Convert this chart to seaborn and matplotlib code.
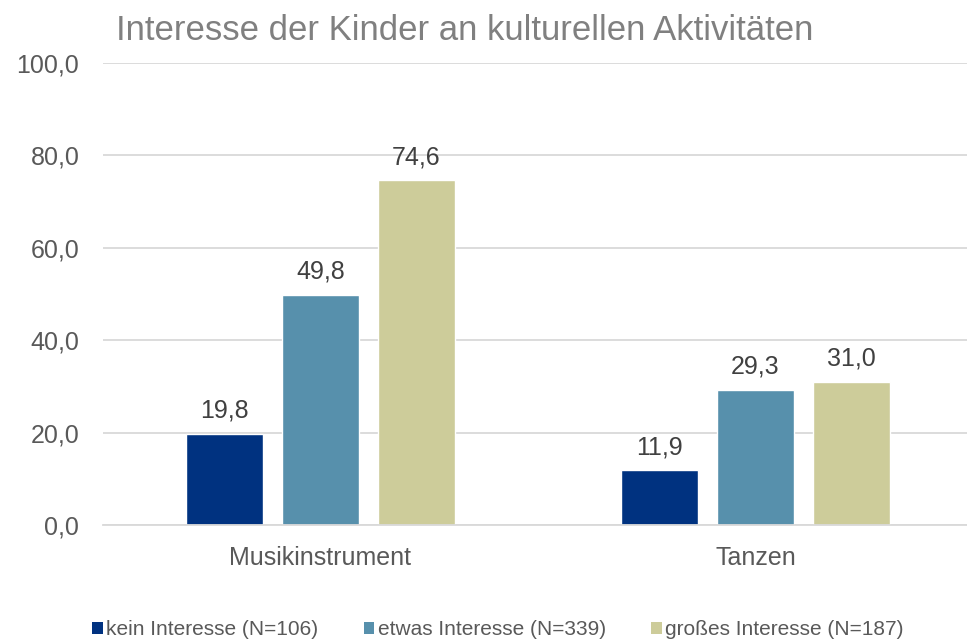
import matplotlib
matplotlib.use('Agg')
import matplotlib.pyplot as plt
import seaborn as sns
import pandas as pd
from matplotlib.patches import Patch

# data
categories = ['Musikinstrument', 'Tanzen']
groups = ['kein Interesse (N=106)', 'etwas Interesse (N=339)', 'großes Interesse (N=187)']
kein = [19.8, 11.9]
etwas = [49.8, 29.3]
gross = [74.6, 31.0]
colors = ['#003280', '#5790AC', '#CDCC9A']

rows = []
for g, vals in zip(groups, [kein, etwas, gross]):
    for c, v in zip(categories, vals):
        rows.append({'Kategorie': c, 'Gruppe': g, 'Wert': v})
df = pd.DataFrame(rows)

sns.set_style('white')
plt.rcParams['font.family'] = ['Liberation Sans', 'DejaVu Sans']

fig = plt.figure(figsize=(9.67, 6.42), dpi=100)
ax = fig.add_axes([0.1065, 0.182, 0.8997, 0.72])

sns.barplot(data=df, x='Kategorie', y='Wert', hue='Gruppe', order=categories,
            hue_order=groups, palette=colors, width=0.662, gap=0.2,
            saturation=1, ax=ax, legend=False)

for cont in ax.containers:
    ax.bar_label(cont, labels=[f'{v:.1f}'.replace('.', ',') for v in cont.datavalues],
                 padding=8, fontsize=18, color='#404040')

ax.set_ylim(0, 100)
ax.set_yticks(range(0, 101, 20))
ax.set_yticklabels([f'{t:.1f}'.replace('.', ',') for t in range(0, 101, 20)])
ax.yaxis.grid(True, color='#d9d9d9', linewidth=1.3)
ax.set_axisbelow(True)
for s in ['top', 'right', 'left']:
    ax.spines[s].set_visible(False)
ax.spines['bottom'].set_color('#d9d9d9')
ax.spines['bottom'].set_linewidth(1.3)
ax.tick_params(axis='y', length=0, labelsize=18, labelcolor='#595959', pad=17)
ax.tick_params(axis='x', length=0, labelsize=18, labelcolor='#595959', pad=15)
ax.set_xlabel('')
ax.set_ylabel('')

fig.text(0.481, 0.953, 'Interesse der Kinder an kulturellen Aktivitäten',
         ha='center', va='center', fontsize=25, color='#808080')

handles = [Patch(facecolor=c, edgecolor='none') for c in colors]
fig.legend(handles, groups, loc='lower center', bbox_to_anchor=(0.515, -0.025),
           ncol=3, frameon=False, fontsize=15, labelcolor='#595959',
           handlelength=0.5, handleheight=0.5, handletextpad=0.15, columnspacing=2.2)

fig.savefig('out.png', dpi=100)
